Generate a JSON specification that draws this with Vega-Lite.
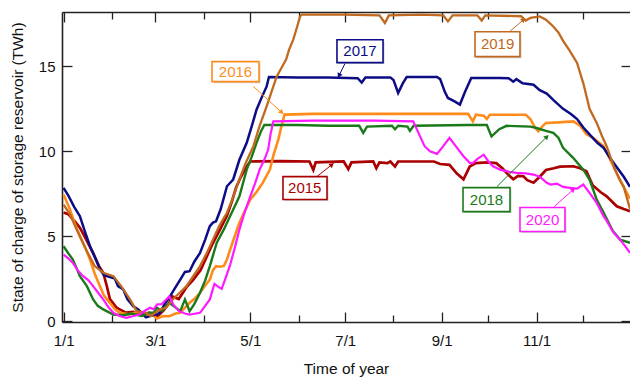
{
  "$schema": "https://vega.github.io/schema/vega-lite/v6.json",
  "width": 568,
  "height": 310,
  "autosize": {"type": "none"},
  "padding": {"left": 62, "top": 12, "right": 0, "bottom": 55},
  "background": "white",
  "config": {"view": {"stroke": null}, "font": "Liberation Sans"},
  "datasets": {
    "series": [
      {"year":"2015","day":0,"value":6.4},{"year":"2015","day":3,"value":6.3},{"year":"2015","day":7,"value":5.9},{"year":"2015","day":10.5,"value":5.5},{"year":"2015","day":14,"value":4.9},{"year":"2015","day":19,"value":4.0},{"year":"2015","day":23,"value":3.2},{"year":"2015","day":25.5,"value":2.85},{"year":"2015","day":27.7,"value":2.1},{"year":"2015","day":29.8,"value":1.3},{"year":"2015","day":34,"value":0.8},{"year":"2015","day":40,"value":0.5},{"year":"2015","day":45,"value":0.55},{"year":"2015","day":50,"value":0.35},{"year":"2015","day":55,"value":0.5},{"year":"2015","day":60,"value":0.25},{"year":"2015","day":64,"value":0.6},{"year":"2015","day":68,"value":1.1},{"year":"2015","day":70,"value":1.45},{"year":"2015","day":74,"value":1.3},{"year":"2015","day":79,"value":2.0},{"year":"2015","day":83,"value":2.4},{"year":"2015","day":88,"value":3.0},{"year":"2015","day":92,"value":3.8},{"year":"2015","day":96,"value":4.6},{"year":"2015","day":100,"value":5.3},{"year":"2015","day":105,"value":6.2},{"year":"2015","day":108,"value":7.0},{"year":"2015","day":111,"value":7.9},{"year":"2015","day":114,"value":8.5},{"year":"2015","day":117.7,"value":9.1},{"year":"2015","day":120,"value":9.4},{"year":"2015","day":140,"value":9.42},{"year":"2015","day":158,"value":9.4},{"year":"2015","day":160.5,"value":8.9},{"year":"2015","day":162,"value":9.35},{"year":"2015","day":180,"value":9.4},{"year":"2015","day":183,"value":8.95},{"year":"2015","day":185,"value":9.35},{"year":"2015","day":199,"value":9.4},{"year":"2015","day":201,"value":9.0},{"year":"2015","day":203,"value":9.35},{"year":"2015","day":208,"value":9.3},{"year":"2015","day":210,"value":9.4},{"year":"2015","day":213,"value":9.1},{"year":"2015","day":215,"value":9.4},{"year":"2015","day":238,"value":9.4},{"year":"2015","day":242,"value":9.25},{"year":"2015","day":248,"value":9.2},{"year":"2015","day":252.6,"value":8.7},{"year":"2015","day":257,"value":8.35},{"year":"2015","day":261,"value":9.1},{"year":"2015","day":265,"value":9.3},{"year":"2015","day":272,"value":9.35},{"year":"2015","day":278,"value":9.3},{"year":"2015","day":282,"value":9.0},{"year":"2015","day":286,"value":8.6},{"year":"2015","day":289,"value":8.35},{"year":"2015","day":292,"value":8.55},{"year":"2015","day":295.5,"value":8.53},{"year":"2015","day":298,"value":8.3},{"year":"2015","day":302,"value":8.15},{"year":"2015","day":306,"value":8.5},{"year":"2015","day":310,"value":8.9},{"year":"2015","day":315,"value":9.0},{"year":"2015","day":319,"value":9.1},{"year":"2015","day":327.6,"value":9.12},{"year":"2015","day":332,"value":9.0},{"year":"2015","day":336,"value":8.82},{"year":"2015","day":340,"value":8.0},{"year":"2015","day":345,"value":7.6},{"year":"2015","day":349,"value":7.35},{"year":"2015","day":355.5,"value":6.76},{"year":"2015","day":360,"value":6.6},{"year":"2015","day":364,"value":6.47},

      {"year":"2016","day":0,"value":7.45},{"year":"2016","day":4,"value":6.6},{"year":"2016","day":7,"value":5.8},{"year":"2016","day":10.5,"value":5.0},{"year":"2016","day":14,"value":4.3},{"year":"2016","day":17,"value":3.63},{"year":"2016","day":20,"value":2.8},{"year":"2016","day":23.4,"value":2.06},{"year":"2016","day":26,"value":1.5},{"year":"2016","day":29.8,"value":1.08},{"year":"2016","day":33,"value":0.7},{"year":"2016","day":36,"value":0.5},{"year":"2016","day":42,"value":0.4},{"year":"2016","day":48,"value":0.55},{"year":"2016","day":52,"value":0.3},{"year":"2016","day":56,"value":0.45},{"year":"2016","day":60,"value":0.15},{"year":"2016","day":64,"value":0.3},{"year":"2016","day":68,"value":0.29},{"year":"2016","day":72,"value":0.45},{"year":"2016","day":75,"value":0.49},{"year":"2016","day":78,"value":0.8},{"year":"2016","day":81,"value":1.08},{"year":"2016","day":84,"value":1.3},{"year":"2016","day":87.7,"value":1.67},{"year":"2016","day":91,"value":2.1},{"year":"2016","day":94,"value":2.45},{"year":"2016","day":96,"value":3.0},{"year":"2016","day":98,"value":3.24},{"year":"2016","day":100.5,"value":3.2},{"year":"2016","day":103,"value":3.25},{"year":"2016","day":105,"value":3.63},{"year":"2016","day":107,"value":4.2},{"year":"2016","day":110,"value":5.0},{"year":"2016","day":113,"value":5.79},{"year":"2016","day":116,"value":6.4},{"year":"2016","day":120,"value":7.16},{"year":"2016","day":124,"value":7.6},{"year":"2016","day":128,"value":8.14},{"year":"2016","day":132.6,"value":8.92},{"year":"2016","day":135,"value":9.8},{"year":"2016","day":138,"value":10.69},{"year":"2016","day":140,"value":11.47},{"year":"2016","day":142,"value":12.16},{"year":"2016","day":160,"value":12.2},{"year":"2016","day":200,"value":12.2},{"year":"2016","day":240,"value":12.2},{"year":"2016","day":260,"value":12.2},{"year":"2016","day":263,"value":11.76},{"year":"2016","day":265,"value":12.15},{"year":"2016","day":270,"value":12.1},{"year":"2016","day":272,"value":11.9},{"year":"2016","day":274,"value":12.15},{"year":"2016","day":297,"value":12.15},{"year":"2016","day":300,"value":11.9},{"year":"2016","day":303,"value":11.4},{"year":"2016","day":305,"value":11.18},{"year":"2016","day":308,"value":11.5},{"year":"2016","day":310,"value":11.67},{"year":"2016","day":318,"value":11.7},{"year":"2016","day":327.6,"value":11.76},{"year":"2016","day":332,"value":11.5},{"year":"2016","day":336,"value":11.0},{"year":"2016","day":340,"value":10.8},{"year":"2016","day":347,"value":10.3},{"year":"2016","day":353,"value":9.2},{"year":"2016","day":357,"value":8.4},{"year":"2016","day":364,"value":7.2},

      {"year":"2017","day":0,"value":7.85},{"year":"2017","day":3,"value":7.4},{"year":"2017","day":7,"value":6.7},{"year":"2017","day":10.5,"value":6.18},{"year":"2017","day":14,"value":5.2},{"year":"2017","day":17,"value":4.41},{"year":"2017","day":20,"value":3.8},{"year":"2017","day":23.4,"value":3.04},{"year":"2017","day":26,"value":2.7},{"year":"2017","day":29.8,"value":2.6},{"year":"2017","day":33,"value":2.5},{"year":"2017","day":35,"value":2.06},{"year":"2017","day":38.4,"value":1.86},{"year":"2017","day":41,"value":1.3},{"year":"2017","day":44.8,"value":0.88},{"year":"2017","day":48,"value":0.69},{"year":"2017","day":50,"value":0.5},{"year":"2017","day":53,"value":0.22},{"year":"2017","day":57,"value":0.35},{"year":"2017","day":60,"value":0.4},{"year":"2017","day":62,"value":0.5},{"year":"2017","day":65,"value":1.0},{"year":"2017","day":68,"value":1.4},{"year":"2017","day":72,"value":2.0},{"year":"2017","day":75,"value":2.45},{"year":"2017","day":78,"value":2.9},{"year":"2017","day":81,"value":2.94},{"year":"2017","day":84,"value":3.5},{"year":"2017","day":87.7,"value":4.02},{"year":"2017","day":91,"value":4.8},{"year":"2017","day":94,"value":5.59},{"year":"2017","day":96,"value":5.8},{"year":"2017","day":98,"value":5.88},{"year":"2017","day":101,"value":6.6},{"year":"2017","day":105,"value":7.94},{"year":"2017","day":109,"value":8.34},{"year":"2017","day":113,"value":9.5},{"year":"2017","day":117.7,"value":10.5},{"year":"2017","day":121,"value":11.5},{"year":"2017","day":124,"value":12.45},{"year":"2017","day":127,"value":13.1},{"year":"2017","day":130.5,"value":13.82},{"year":"2017","day":132,"value":14.37},{"year":"2017","day":150,"value":14.35},{"year":"2017","day":170,"value":14.35},{"year":"2017","day":189,"value":14.3},{"year":"2017","day":191.6,"value":14.05},{"year":"2017","day":194,"value":14.35},{"year":"2017","day":210,"value":14.35},{"year":"2017","day":212,"value":14.2},{"year":"2017","day":215,"value":13.43},{"year":"2017","day":218,"value":14.0},{"year":"2017","day":220.5,"value":14.37},{"year":"2017","day":240,"value":14.37},{"year":"2017","day":242,"value":14.25},{"year":"2017","day":245,"value":13.5},{"year":"2017","day":247,"value":13.14},{"year":"2017","day":251,"value":12.95},{"year":"2017","day":254.7,"value":12.75},{"year":"2017","day":258,"value":13.5},{"year":"2017","day":262,"value":14.32},{"year":"2017","day":280,"value":14.32},{"year":"2017","day":286,"value":14.3},{"year":"2017","day":289,"value":14.1},{"year":"2017","day":291,"value":14.25},{"year":"2017","day":295,"value":14.0},{"year":"2017","day":302,"value":13.92},{"year":"2017","day":306,"value":13.6},{"year":"2017","day":310.5,"value":13.4},{"year":"2017","day":315,"value":13.0},{"year":"2017","day":321,"value":12.5},{"year":"2017","day":326,"value":12.2},{"year":"2017","day":330,"value":11.9},{"year":"2017","day":334,"value":11.4},{"year":"2017","day":338,"value":11.0},{"year":"2017","day":343,"value":10.5},{"year":"2017","day":347,"value":10.2},{"year":"2017","day":352,"value":9.5},{"year":"2017","day":356,"value":9.0},{"year":"2017","day":360,"value":8.5},{"year":"2017","day":364,"value":7.9},

      {"year":"2018","day":0,"value":4.41},{"year":"2018","day":3,"value":4.0},{"year":"2018","day":6,"value":3.63},{"year":"2018","day":10.5,"value":2.65},{"year":"2018","day":15,"value":2.06},{"year":"2018","day":19,"value":1.28},{"year":"2018","day":22,"value":0.9},{"year":"2018","day":25.5,"value":0.69},{"year":"2018","day":32,"value":0.39},{"year":"2018","day":38,"value":0.35},{"year":"2018","day":44,"value":0.45},{"year":"2018","day":50,"value":0.3},{"year":"2018","day":55,"value":0.5},{"year":"2018","day":58,"value":0.5},{"year":"2018","day":60,"value":0.79},{"year":"2018","day":63,"value":0.6},{"year":"2018","day":66,"value":0.9},{"year":"2018","day":68,"value":1.08},{"year":"2018","day":72,"value":0.8},{"year":"2018","day":75,"value":0.59},{"year":"2018","day":78,"value":1.28},{"year":"2018","day":81,"value":0.59},{"year":"2018","day":84,"value":1.0},{"year":"2018","day":87.7,"value":1.67},{"year":"2018","day":91,"value":2.4},{"year":"2018","day":94,"value":3.24},{"year":"2018","day":98.4,"value":4.61},{"year":"2018","day":103,"value":5.4},{"year":"2018","day":107,"value":6.18},{"year":"2018","day":113,"value":7.35},{"year":"2018","day":117.7,"value":8.92},{"year":"2018","day":121,"value":9.7},{"year":"2018","day":124,"value":10.5},{"year":"2018","day":127,"value":11.2},{"year":"2018","day":129,"value":11.55},{"year":"2018","day":150,"value":11.55},{"year":"2018","day":170,"value":11.5},{"year":"2018","day":190,"value":11.5},{"year":"2018","day":192.6,"value":11.08},{"year":"2018","day":195,"value":11.45},{"year":"2018","day":211,"value":11.5},{"year":"2018","day":213,"value":11.3},{"year":"2018","day":215,"value":11.5},{"year":"2018","day":221,"value":11.45},{"year":"2018","day":222.6,"value":11.2},{"year":"2018","day":225,"value":11.5},{"year":"2018","day":260,"value":11.55},{"year":"2018","day":272,"value":11.55},{"year":"2018","day":275,"value":10.88},{"year":"2018","day":280,"value":11.3},{"year":"2018","day":284.7,"value":11.5},{"year":"2018","day":300,"value":11.45},{"year":"2018","day":304,"value":11.37},{"year":"2018","day":310,"value":11.2},{"year":"2018","day":314.7,"value":11.08},{"year":"2018","day":318,"value":10.8},{"year":"2018","day":321,"value":10.2},{"year":"2018","day":327.6,"value":9.6},{"year":"2018","day":334,"value":8.92},{"year":"2018","day":338,"value":8.34},{"year":"2018","day":342.6,"value":7.16},{"year":"2018","day":347,"value":6.4},{"year":"2018","day":353,"value":5.3},{"year":"2018","day":357.6,"value":4.8},{"year":"2018","day":364,"value":4.61},

      {"year":"2019","day":0,"value":6.86},{"year":"2019","day":4,"value":6.3},{"year":"2019","day":8.4,"value":5.4},{"year":"2019","day":12,"value":4.7},{"year":"2019","day":15,"value":4.12},{"year":"2019","day":20,"value":3.24},{"year":"2019","day":25.5,"value":2.85},{"year":"2019","day":32,"value":2.65},{"year":"2019","day":37,"value":2.06},{"year":"2019","day":42.7,"value":1.28},{"year":"2019","day":47,"value":0.59},{"year":"2019","day":53,"value":0.49},{"year":"2019","day":56,"value":0.3},{"year":"2019","day":59,"value":0.5},{"year":"2019","day":62,"value":0.69},{"year":"2019","day":66,"value":0.8},{"year":"2019","day":70,"value":1.26},{"year":"2019","day":75,"value":1.7},{"year":"2019","day":79,"value":2.06},{"year":"2019","day":83,"value":2.6},{"year":"2019","day":87.7,"value":3.24},{"year":"2019","day":92,"value":4.0},{"year":"2019","day":96,"value":4.8},{"year":"2019","day":100,"value":5.6},{"year":"2019","day":105,"value":6.38},{"year":"2019","day":109,"value":7.3},{"year":"2019","day":113,"value":8.34},{"year":"2019","day":117,"value":9.3},{"year":"2019","day":122,"value":10.3},{"year":"2019","day":126,"value":11.5},{"year":"2019","day":130.5,"value":12.65},{"year":"2019","day":134,"value":13.6},{"year":"2019","day":137,"value":14.41},{"year":"2019","day":140,"value":14.9},{"year":"2019","day":143,"value":15.4},{"year":"2019","day":145,"value":16.0},{"year":"2019","day":147.6,"value":16.57},{"year":"2019","day":150,"value":17.3},{"year":"2019","day":152,"value":17.94},{"year":"2019","day":153,"value":18.04},{"year":"2019","day":180,"value":18.04},{"year":"2019","day":203,"value":18.0},{"year":"2019","day":206.5,"value":17.55},{"year":"2019","day":209,"value":18.0},{"year":"2019","day":230,"value":18.04},{"year":"2019","day":244,"value":18.0},{"year":"2019","day":247,"value":17.65},{"year":"2019","day":250,"value":18.0},{"year":"2019","day":266,"value":18.0},{"year":"2019","day":268.7,"value":17.7},{"year":"2019","day":271,"value":18.0},{"year":"2019","day":294,"value":17.95},{"year":"2019","day":297,"value":17.7},{"year":"2019","day":300,"value":17.85},{"year":"2019","day":306,"value":17.94},{"year":"2019","day":310,"value":17.75},{"year":"2019","day":314.7,"value":17.35},{"year":"2019","day":318,"value":17.0},{"year":"2019","day":321,"value":16.5},{"year":"2019","day":325,"value":15.95},{"year":"2019","day":330,"value":15.2},{"year":"2019","day":334,"value":14.0},{"year":"2019","day":338,"value":12.5},{"year":"2019","day":342.6,"value":11.67},{"year":"2019","day":346,"value":10.9},{"year":"2019","day":349,"value":10.3},{"year":"2019","day":354,"value":9.0},{"year":"2019","day":357.6,"value":8.3},{"year":"2019","day":360,"value":7.9},{"year":"2019","day":364,"value":6.6},

      {"year":"2020","day":0,"value":3.92},{"year":"2020","day":3,"value":3.7},{"year":"2020","day":6,"value":3.43},{"year":"2020","day":9,"value":3.0},{"year":"2020","day":12.6,"value":2.65},{"year":"2020","day":16,"value":2.4},{"year":"2020","day":19,"value":2.06},{"year":"2020","day":22,"value":1.7},{"year":"2020","day":25.5,"value":1.28},{"year":"2020","day":29,"value":0.8},{"year":"2020","day":32,"value":0.49},{"year":"2020","day":36,"value":0.3},{"year":"2020","day":40.5,"value":0.2},{"year":"2020","day":45,"value":0.3},{"year":"2020","day":49,"value":0.39},{"year":"2020","day":52,"value":0.6},{"year":"2020","day":55.5,"value":0.79},{"year":"2020","day":58,"value":0.7},{"year":"2020","day":60,"value":0.98},{"year":"2020","day":63,"value":1.0},{"year":"2020","day":66,"value":1.28},{"year":"2020","day":68,"value":1.47},{"year":"2020","day":70.5,"value":0.98},{"year":"2020","day":74,"value":0.6},{"year":"2020","day":78,"value":0.45},{"year":"2020","day":81,"value":0.39},{"year":"2020","day":85,"value":0.45},{"year":"2020","day":87.7,"value":0.49},{"year":"2020","day":91,"value":0.9},{"year":"2020","day":94,"value":1.28},{"year":"2020","day":96,"value":1.9},{"year":"2020","day":97,"value":2.2},{"year":"2020","day":99,"value":2.05},{"year":"2020","day":101.6,"value":1.9},{"year":"2020","day":104,"value":2.5},{"year":"2020","day":107,"value":3.3},{"year":"2020","day":110,"value":4.3},{"year":"2020","day":113,"value":5.39},{"year":"2020","day":116,"value":6.3},{"year":"2020","day":120,"value":7.35},{"year":"2020","day":123,"value":8.1},{"year":"2020","day":126,"value":8.92},{"year":"2020","day":129,"value":9.5},{"year":"2020","day":131.5,"value":10.1},{"year":"2020","day":133,"value":11.0},{"year":"2020","day":134.8,"value":11.76},{"year":"2020","day":160,"value":11.8},{"year":"2020","day":200,"value":11.8},{"year":"2020","day":224.7,"value":11.76},{"year":"2020","day":228,"value":11.1},{"year":"2020","day":232,"value":10.3},{"year":"2020","day":235.5,"value":10.0},{"year":"2020","day":240,"value":9.85},{"year":"2020","day":244,"value":10.3},{"year":"2020","day":248,"value":10.79},{"year":"2020","day":252,"value":10.3},{"year":"2020","day":257,"value":9.71},{"year":"2020","day":261,"value":9.32},{"year":"2020","day":263,"value":9.3},{"year":"2020","day":266,"value":9.55},{"year":"2020","day":270,"value":9.8},{"year":"2020","day":273,"value":9.4},{"year":"2020","day":276,"value":9.12},{"year":"2020","day":280.5,"value":8.92},{"year":"2020","day":286,"value":8.8},{"year":"2020","day":291,"value":8.73},{"year":"2020","day":297,"value":8.7},{"year":"2020","day":302,"value":8.63},{"year":"2020","day":306,"value":8.5},{"year":"2020","day":310.5,"value":8.14},{"year":"2020","day":313,"value":8.04},{"year":"2020","day":317,"value":8.1},{"year":"2020","day":321,"value":7.9},{"year":"2020","day":325.5,"value":7.85},{"year":"2020","day":330,"value":7.8},{"year":"2020","day":334,"value":8.04},{"year":"2020","day":338,"value":7.55},{"year":"2020","day":342.6,"value":6.96},{"year":"2020","day":347,"value":6.18},{"year":"2020","day":349,"value":5.9},{"year":"2020","day":353.5,"value":5.2},{"year":"2020","day":357.6,"value":4.8},{"year":"2020","day":361,"value":4.4},{"year":"2020","day":364,"value":4.02}
    ],
    "labels": [
      {"year":"2015","tx":155,"ty":7.84,"bx1":141,"bx2":169.3,"by1":7.16,"by2":8.51,"ax1":162.8,"ay1":8.51,"ax2":172.5,"ay2":9.22},
      {"year":"2016","tx":110.5,"ty":14.69,"bx1":95.4,"bx2":125.6,"by1":14.1,"by2":15.28,"ax1":121.9,"ay1":13.82,"ax2":140.2,"ay2":12.29},
      {"year":"2017","tx":190.5,"ty":15.9,"bx1":175.7,"bx2":205.3,"by1":15.22,"by2":16.57,"ax1":180.8,"ay1":15.16,"ax2":177,"ay2":14.45},
      {"year":"2018","tx":271.8,"ty":7.16,"bx1":256.7,"bx2":286.9,"by1":6.45,"by2":7.86,"ax1":278.5,"ay1":7.92,"ax2":310.6,"ay2":10.86},
      {"year":"2019","tx":278.9,"ty":16.3,"bx1":264.4,"bx2":293.3,"by1":15.57,"by2":17.04,"ax1":286.6,"ay1":17.04,"ax2":295.6,"ay2":17.75},
      {"year":"2020","tx":307.8,"ty":5.98,"bx1":293.3,"bx2":322.2,"by1":5.28,"by2":6.69,"ax1":315.4,"ay1":6.75,"ax2":327.6,"ay2":7.75}
    ]
  },
  "layer": [
    {
      "data": {"name": "series"},
      "mark": {"type": "line", "clip": true},
      "encoding": {
        "x": {
          "field": "day", "type": "quantitative",
          "scale": {"domain": [-1, 364], "nice": false, "zero": false},
          "axis": {
            "orient": "bottom",
            "values": [0, 31, 59, 90, 120, 151, 181, 212, 243, 273, 304, 334],
            "labelExpr": "datum.value==0?'1/1':datum.value==59?'3/1':datum.value==120?'5/1':datum.value==181?'7/1':datum.value==243?'9/1':datum.value==304?'11/1':''",
            "tickSize": {"condition": {"test": "indexof([0,59,120,181,243,304], datum.value) >= 0", "value": -10}, "value": -7},
            "tickColor": "#222", "tickWidth": 1.3,
            "domainColor": "#222", "domainWidth": 1.6,
            "grid": false, "labelFlush": false,
            "labelFont": "Liberation Sans", "labelFontSize": 15, "labelColor": "#111", "labelPadding": 21,
            "title": "Time of year", "titleFont": "Liberation Sans", "titleFontSize": 15.5, "titleFontWeight": "normal", "titleColor": "#111",
            "titleX": 284, "titleY": 46, "titleBaseline": "middle", "titleAlign": "center"
          }
        },
        "y": {
          "field": "value", "type": "quantitative",
          "scale": {"domain": [-0.05, 18.2], "nice": false, "zero": false},
          "axis": {
            "orient": "left",
            "values": [0, 5, 10, 15],
            "tickSize": -10, "tickColor": "#222", "tickWidth": 1.3,
            "domainColor": "#222", "domainWidth": 1.6,
            "grid": false,
            "labelFont": "Liberation Sans", "labelFontSize": 15, "labelColor": "#111", "labelPadding": 17,
            "title": "State of charge of storage reservoir (TWh)", "titleFont": "Liberation Sans", "titleFontSize": 15.5, "titleFontWeight": "normal", "titleColor": "#111",
            "titleX": -44.5, "titleY": 155, "titleBaseline": "middle", "titleAlign": "center", "titleAngle": -90
          }
        },
        "color": {
          "field": "year", "type": "nominal",
          "scale": {"domain": ["2015", "2016", "2017", "2018", "2019", "2020"], "range": ["#aa0000", "#ff8c1a", "#0c0c86", "#1a7a1a", "#c0691f", "#ff1aff"]},
          "legend": null
        },
        "strokeWidth": {
          "field": "year", "type": "nominal",
          "scale": {"domain": ["2015", "2016", "2017", "2018", "2019", "2020"], "range": [2.7, 2.2, 2.7, 2.6, 1.9, 2.8]},
          "legend": null
        }
      }
    },
    {
      "data": {"name": "labels"},
      "mark": {"type": "rule", "strokeWidth": 1},
      "encoding": {
        "x": {
          "field": "ax1", "type": "quantitative",
          "scale": {"domain": [-1, 364], "nice": false, "zero": false},
          "axis": {
            "orient": "top",
            "values": [0, 31, 59, 90, 120, 151, 181, 212, 243, 273, 304, 334],
            "labels": false,
            "tickSize": {"condition": {"test": "indexof([0,59,120,181,243,304], datum.value) >= 0", "value": -10}, "value": -7},
            "tickColor": "#222", "tickWidth": 1.3,
            "domainColor": "#222", "domainWidth": 1.6,
            "grid": false, "title": null
          }
        },
        "x2": {"field": "ax2"},
        "y": {
          "field": "ay1", "type": "quantitative",
          "scale": {"domain": [-0.05, 18.2], "nice": false, "zero": false},
          "axis": {
            "orient": "right",
            "values": [0, 5, 10, 15],
            "labels": false,
            "tickSize": -9, "tickColor": "#222", "tickWidth": 1.3,
            "domain": false, "grid": false, "title": null
          }
        },
        "y2": {"field": "ay2"},
        "color": {"field": "year", "type": "nominal", "legend": null}
      }
    },
    {
      "data": {"name": "labels"},
      "transform": [
        {"calculate": "atan2((datum.ax2 - datum.ax1) * 1.556, (datum.ay2 - datum.ay1) * 17) * 180 / PI", "as": "ang"}
      ],
      "mark": {"type": "point", "shape": "triangle-up", "filled": true, "size": 30, "opacity": 1},
      "encoding": {
        "x": {"field": "ax2", "type": "quantitative", "axis": null},
        "y": {"field": "ay2", "type": "quantitative", "axis": null},
        "angle": {"field": "ang", "type": "quantitative", "scale": null},
        "color": {"field": "year", "type": "nominal", "legend": null}
      }
    },
    {
      "data": {"name": "labels"},
      "mark": {"type": "rect", "fill": "#999999", "opacity": 0.45, "xOffset": 1.5, "yOffset": 1.5, "x2Offset": 1.5, "y2Offset": 1.5},
      "encoding": {
        "x": {"field": "bx1", "type": "quantitative", "axis": null},
        "x2": {"field": "bx2"},
        "y": {"field": "by1", "type": "quantitative", "axis": null},
        "y2": {"field": "by2"}
      }
    },
    {
      "data": {"name": "labels"},
      "mark": {"type": "rect", "fill": "white", "strokeWidth": 1.6},
      "encoding": {
        "x": {"field": "bx1", "type": "quantitative", "axis": null},
        "x2": {"field": "bx2"},
        "y": {"field": "by1", "type": "quantitative", "axis": null},
        "y2": {"field": "by2"},
        "stroke": {
          "field": "year", "type": "nominal",
          "scale": {"domain": ["2015", "2016", "2017", "2018", "2019", "2020"], "range": ["#aa0000", "#ff8c1a", "#0c0c86", "#1a7a1a", "#c0691f", "#ff1aff"]},
          "legend": null
        }
      }
    },
    {
      "data": {"name": "labels"},
      "mark": {"type": "text", "font": "Liberation Sans", "fontSize": 15, "align": "center", "baseline": "middle"},
      "encoding": {
        "x": {"field": "tx", "type": "quantitative", "axis": null},
        "y": {"field": "ty", "type": "quantitative", "axis": null},
        "text": {"field": "year", "type": "nominal"},
        "color": {"field": "year", "type": "nominal", "legend": null}
      }
    }
  ],
  "resolve": {"axis": {"x": "independent", "y": "independent"}}
}
